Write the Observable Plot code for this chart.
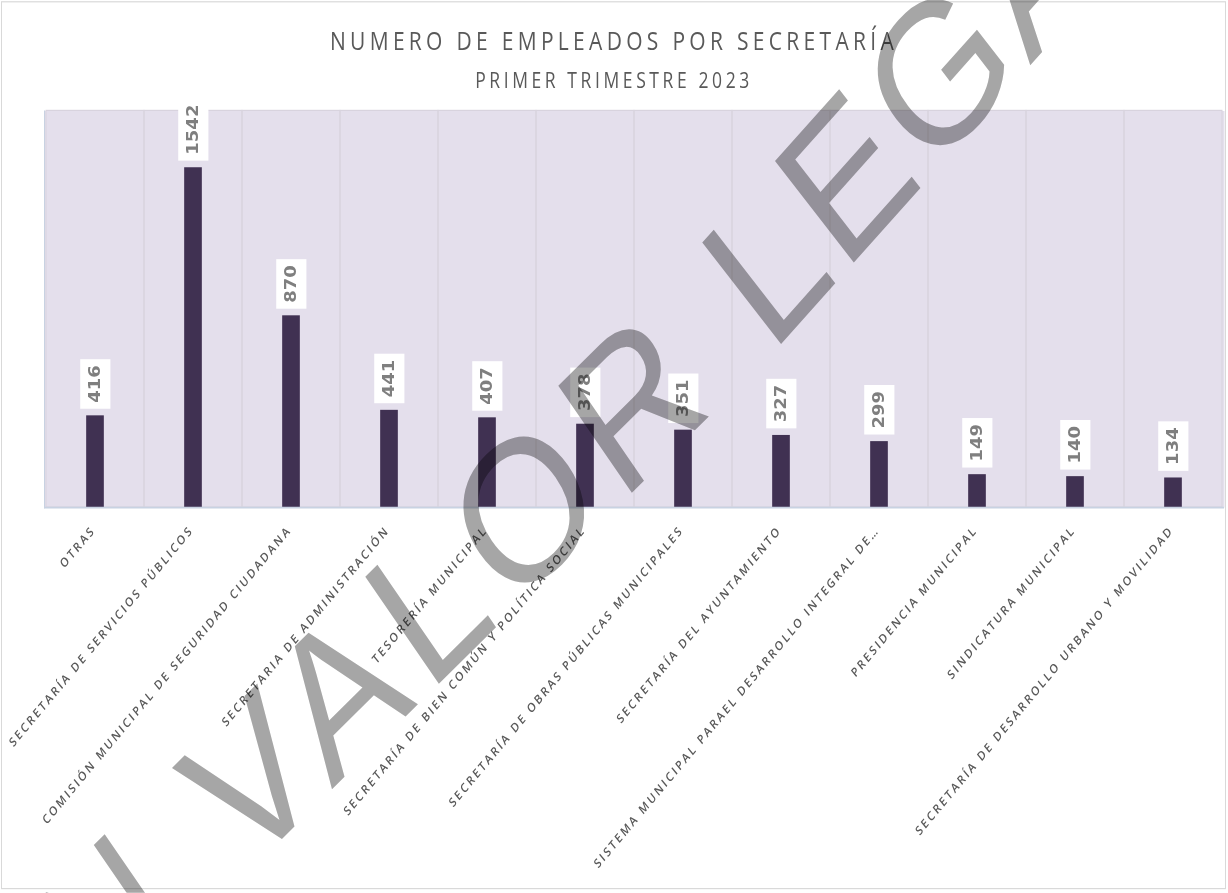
<!DOCTYPE html>
<html><head><meta charset="utf-8">
<script src="https://cdn.jsdelivr.net/npm/d3@7"></script>
<script src="https://cdn.jsdelivr.net/npm/@observablehq/plot@0.6"></script>
<style>
html,body{margin:0;padding:0;background:#fff;}
#page{position:relative;width:1228px;height:893px;overflow:hidden;}
#wrap{position:absolute;left:0;top:0;width:1228px;height:744px;transform:scale(1,1.2);transform-origin:0 0;}
#border{position:absolute;left:1px;top:1px;width:1223px;height:738px;border:1px solid #d9d9d9;pointer-events:none;}
#title{position:absolute;left:0;width:1228px;top:21px;height:26px;line-height:26px;text-align:center;font-family:"Open Sans";font-weight:400;font-size:21px;letter-spacing:4.3px;color:#595959;white-space:nowrap;}
#subtitle{position:absolute;left:0;width:1228px;top:56px;height:20px;line-height:20px;text-align:center;font-family:"Open Sans";font-weight:400;font-size:17.5px;letter-spacing:3.6px;color:#595959;white-space:nowrap;}
#chart{position:absolute;left:0;top:80px;}
#wm{position:absolute;left:0;top:0;mix-blend-mode:multiply;pointer-events:none;overflow:hidden;}
</style></head>
<body>
<div id="page">
<div id="wrap">
  <div id="border"></div>
  <div id="title">NUMERO DE EMPLEADOS POR SECRETARÍA</div>
  <div id="subtitle">PRIMER TRIMESTRE 2023</div>
  <div id="chart"></div>
  <svg id="wm" width="1228" height="744"></svg>
</div>
</div>
<script>
const categories = [
  "OTRAS",
  "SECRETARÍA DE SERVICIOS PÚBLICOS",
  "COMISIÓN MUNICIPAL DE SEGURIDAD CIUDADANA",
  "SECRETARIA DE ADMINISTRACIÓN",
  "TESORERÍA MUNICIPAL",
  "SECRETARÍA DE BIEN COMÚN Y POLÍTICA SOCIAL",
  "SECRETARÍA DE OBRAS PÚBLICAS MUNICIPALES",
  "SECRETARÍA DEL AYUNTAMIENTO",
  "SISTEMA MUNICIPAL PARAEL DESARROLLO INTEGRAL DE…",
  "PRESIDENCIA MUNICIPAL",
  "SINDICATURA MUNICIPAL",
  "SECRETARÍA DE DESARROLLO URBANO Y MOVILIDAD"
];
const values = [416, 1542, 870, 441, 407, 378, 351, 327, 299, 149, 140, 134];
const yDomain = [0, 1800];
const watermarkParts = ["SIN VALOR ", "LEGAL"];

const data = categories.map((c, i) => ({c, v: values[i]}));
const W = 1228, mL = 44, mR = 4;
const band = (W - mL - mR) / categories.length;
const barW = 18;
const inset = (band - barW) / 2;

const chart = Plot.plot({
  width: W, height: 664,
  marginLeft: mL, marginRight: mR, marginTop: 12, marginBottom: 321.5,
  x: {domain: categories, padding: 0, axis: null},
  y: {domain: yDomain, axis: null},
  style: {background: "transparent", overflow: "visible"},
  marks: [
    Plot.frame({fill: "#e4dfec", stroke: null}),
    Plot.barY(categories, {x: d => d, y: () => yDomain[1], fill: "none", stroke: "#d8d3de", strokeWidth: 1}),
    Plot.barY(data, {x: "c", y: "v", fill: "#403152", insetLeft: inset, insetRight: inset}),
    Plot.ruleY([0], {stroke: "#c8d2e2", strokeWidth: 1.5}),
    Plot.frame({anchor: "left", stroke: "#c8d2e2"}),
    Plot.text(data, {x: "c", y: "v", text: d => String(d.v), rotate: -90, textAnchor: "start", lineAnchor: "middle",
      dy: -11, fontSize: 15, fontWeight: "bold", fill: "#7f7f7f", fontFamily: "DejaVu Sans"}),
    Plot.text(categories, {x: d => d, frameAnchor: "bottom", text: d => d, rotate: -45, textAnchor: "end", lineAnchor: "middle",
      dx: -2, dy: 17, fontSize: 10.5, fontWeight: 600, fill: "#595959", fontFamily: "Open Sans"})
  ]
});
document.getElementById("chart").appendChild(chart);

const textGroups = chart.querySelectorAll('g[aria-label="text"]');
const valueGroup = textGroups[0], catGroup = textGroups[1];

// letter spacing on category labels
catGroup.querySelectorAll("text").forEach(t => t.setAttribute("letter-spacing", "2.2"));

// white boxes behind value labels
const NS = "http://www.w3.org/2000/svg";
valueGroup.querySelectorAll("text").forEach(t => {
  const b = t.getBBox();
  const r = document.createElementNS(NS, "rect");
  r.setAttribute("x", b.x - 5);
  r.setAttribute("y", b.y - 6.5);
  r.setAttribute("width", b.width + 10);
  r.setAttribute("height", b.height + 13);
  r.setAttribute("fill", "#ffffff");
  if (t.getAttribute("transform")) r.setAttribute("transform", t.getAttribute("transform"));
  t.parentNode.insertBefore(r, t);
});

// watermark: first words on a slightly shallower line, "LEGAL" at -44°
const wm = d3.select("#wm");
const P = [771, 296];
const wmStyle = sel => sel.attr("font-family", "Liberation Sans").attr("font-size", 168).attr("fill", "#a6a6a6");
const g1 = wm.append("g");
const t1 = wmStyle(g1.append("text")).attr("xml:space", "preserve");
t1.append("tspan").attr("letter-spacing", 13).text(watermarkParts[0]);
t1.append("tspan").attr("fill", "none").text(watermarkParts[1]);
const sp = t1.node().getStartPositionOfChar(watermarkParts[0].length);
g1.attr("transform", `translate(${P[0]},${P[1]}) rotate(-39.5) translate(${-sp.x},0)`);
const g2 = wm.append("g").attr("transform", `translate(${P[0]},${P[1]}) rotate(-43)`);
wmStyle(g2.append("text")).attr("letter-spacing", 6).text(watermarkParts[1]);
</script>
</body></html>
